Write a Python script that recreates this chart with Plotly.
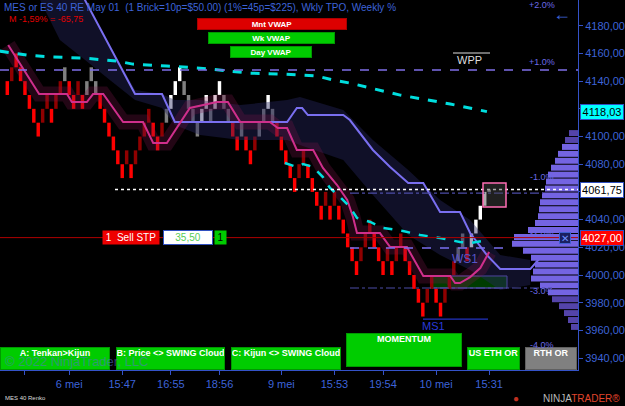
import plotly.graph_objects as go

# ---------------- data ----------------
brick_low = [4130, 4140, 4150, 4140, 4130, 4120, 4110, 4100, 4110, 4120,
             4110, 4120, 4130, 4140, 4130, 4120, 4130, 4120, 4130, 4140,
             4130, 4120, 4110, 4100, 4090, 4080, 4070, 4080, 4070, 4080,
             4090, 4100, 4110, 4100, 4090, 4100, 4110, 4120, 4130, 4140,
             4130, 4120, 4110, 4100, 4110, 4120, 4110, 4120, 4130, 4120,
             4110, 4100, 4090, 4100, 4090, 4080, 4090, 4100, 4110, 4120,
             4110, 4100, 4090, 4080, 4070, 4060, 4070, 4080, 4070, 4060,
             4050, 4040, 4050, 4040, 4050, 4040, 4030, 4020, 4010, 4000,
             4010, 4020, 4030, 4020, 4010, 4000, 4010, 4000, 4010, 4020,
             4010, 4000, 3990, 3980, 3970, 3980, 3990, 3980, 3970, 3980,
             3990, 4000, 4010, 4020, 4010, 4020, 4030, 4040, 4050]
brick_kind = list("RDRRRRRRDD" "RDDGRRDRGG" "GRRRRRRDRD" "DDDRRDGWWW"
                  "GGGGWWGWWG" "GRRGRRDGGW" "GRRRRRDDRR" "RRDRDRRRRR"
                  "DDDRRRDRDD" "RRRRRDDRRD" "DDGGRWWWW")
brick_size = 10
forming_low = 4060
last_price = 4061.75

wk_vwap_x = [-1.7, 4.5, 10.3, 17.1, 24.8, 28.4, 36.1, 43.6, 54.9, 62.4, 70.1, 73.7, 77.5, 88.9, 100.2, 108.5]
wk_vwap_y = [4161.7, 4158.8, 4157.4, 4156.7, 4154.5, 4152.3, 4150.9, 4149.4, 4145.8, 4145.1, 4143.7,
             4140.8, 4138.6, 4129.9, 4123.5, 4118.0]

day_vwap_x = [62.8, 65.5, 66.9, 69.2, 71.4, 73.0, 75.3, 77.5, 79.1, 82.1, 85.0, 89.5, 93.4, 97.9, 102.4, 104.7, 108.8]
day_vwap_y = [4080.9, 4078.0, 4080.1, 4078.0, 4070.7, 4062.8, 4056.3, 4049.1, 4041.2, 4038.3, 4034.0,
              4031.8, 4028.9, 4026.7, 4023.8, 4023.1, 4025.3]

kijun_x = [16.5, 28.9, 35.0, 37.9, 63.3, 65.5, 66.7, 68.0, 76.0, 77.5, 82.7, 86.6, 90.7, 94.1,
           97.9, 102.4, 104.7, 108.5, 111.5, 118.3, 120.5]
kijun_y = [4205.0, 4130.7, 4130.7, 4110.5, 4110.5, 4120.6, 4120.6, 4115.5, 4115.5, 4111.9, 4090.3,
           4078.0, 4066.4, 4066.4, 4045.5, 4045.5, 4030.3, 4014.4, 4004.3, 4004.3, 4012.3]

tenkan_x = [0.2, 7.2, 13.5, 14.6, 18.0, 19.4, 21.7, 26.2, 30.7, 33.0, 36.1, 41.3, 47.4, 49.9, 52.7,
            59.4, 61.2, 63.3, 65.5, 69.2, 71.4, 74.6, 76.9, 78.2, 79.1, 84.3, 86.6, 90.4, 94.1,
            100.2, 101.3, 102.4, 104.7, 107.0, 109.0]
tenkan_y = [4166.1, 4130.7, 4130.7, 4124.9, 4124.9, 4130.7, 4130.7, 4110.5, 4110.5, 4095.3, 4095.3,
            4120.6, 4124.9, 4124.9, 4110.5, 4110.5, 4106.1, 4106.1, 4090.3, 4090.3, 4077.3, 4065.0,
            4054.2, 4041.9, 4030.3, 4030.3, 4020.2, 4020.2, 3999.3, 3999.3, 3994.2, 3994.2, 3998.5,
            4005.0, 4016.6]

cloud_x = [7.4, 11.9, 17.6, 23.2, 28.9, 35.0, 37.9, 43.6, 52.7, 63.3, 66.2, 76.0, 82.7, 90.7,
           97.9, 104.7, 111.5, 118.3]
cloud_upper = [4198.6, 4198.6, 4198.6, 4166.1, 4133.6, 4130.7, 4126.4, 4126.4, 4122.7, 4126.4,
               4128.5, 4119.1, 4097.5, 4075.8, 4054.2, 4039.7, 4014.4, 4010.8]
cloud_lower = [4198.6, 4169.7, 4155.2, 4140.8, 4126.4, 4120.6, 4108.3, 4101.1, 4097.5, 4097.5,
               4093.9, 4083.0, 4057.8, 4028.9, 4014.4, 4003.6, 3989.2, 3992.8]

profile_price = [4102.5, 4097.5, 4092.5, 4087.5, 4082.5, 4077.5, 4072.5, 4067.5, 4062.5, 4057.5,
                 4052.5, 4047.5, 4042.5, 4037.5, 4032.5, 4027.5, 4022.5, 4017.5, 4012.5, 4007.5,
                 4002.5, 3997.5, 3992.5, 3987.5, 3982.5, 3977.5, 3972.5, 3967.5, 3962.5]
profile_volume = [9, 13, 16, 20, 23, 27, 30, 32, 33, 36, 38, 39, 40, 43, 50, 64, 66, 55, 47, 43,
                  45, 47, 38, 30, 26, 19, 14, 10, 7]

x_ticks = [4, 14, 26, 37, 48, 62, 74, 85, 97, 109]
x_labels = ["", "6 mei", "15:47", "16:55", "18:56", "9 mei", "15:53", "19:54", "10 mei", "15:31"]
y_ticks = [3940, 3960, 3980, 4000, 4020, 4040, 4060, 4080, 4100, 4120, 4140, 4160, 4180]
y_labels = ["3940,00", "3960,00", "3980,00", "4000,00", "4020,00", "4040,00", "",
            "4080,00", "4100,00", "", "4140,00", "4160,00", "4180,00"]

wk_plus1 = 4148.0
pct_levels = [4059.2, 3990.6]
ws1_level = 4019.5
ms1_level = 3968.2
sell_stop = 4027.0
vwap_last = 4118.03

# ---------------- layout helpers ----------------
W_PLOT, H_PLOT = 578, 370
X_RANGE = [-1.65, 129.1]
Y_RANGE = [3931.4, 4198.6]
FONT = "Liberation Sans, Arial, sans-serif"
AXIS_BLUE = "#3452c8"
TXT_BLUE = "#3d63d8"


def px(x):
    return x / W_PLOT


def py(y):
    return (H_PLOT - y) / H_PLOT


def ix(xp):
    return X_RANGE[0] + (X_RANGE[1] - X_RANGE[0]) * xp / W_PLOT


kind_colors = {"R": "#ff0000", "D": "#900000", "G": "#808080", "W": "#ffffff"}
idx = list(range(len(brick_low)))

fig = go.Figure()

# swing cloud (navy)
fig.add_trace(go.Scatter(x=cloud_x + cloud_x[::-1], y=cloud_upper + cloud_lower[::-1],
                         fill="toself", fillcolor="rgba(38,38,95,0.42)", mode="none",
                         hoverinfo="skip"))
# tenkan cloud (maroon glow)
fig.add_trace(go.Scatter(x=tenkan_x, y=tenkan_y, mode="lines",
                         line=dict(color="rgba(125,20,75,0.28)", width=15), hoverinfo="skip"))

# volume profile
prof_colors = ["#7464e2" if 3985 < p < 4095 else "#5444aa" for p in profile_price]
fig.add_trace(go.Bar(y=profile_price, x=profile_volume, orientation="h", xaxis="x2",
                     width=4.3, marker=dict(color=prof_colors, line_width=0), hoverinfo="skip"))

# bricks
fig.add_trace(go.Bar(x=idx, y=[brick_size] * len(idx), base=brick_low, width=0.78,
                     marker=dict(color=[kind_colors[k] for k in brick_kind], line_width=0)))
fig.add_trace(go.Bar(x=[len(idx)], y=[last_price - forming_low], base=[forming_low], width=0.78,
                     marker=dict(color="#9a9a9a", line_width=0)))

# lines
fig.add_trace(go.Scatter(x=kijun_x, y=kijun_y, mode="lines", line=dict(color="#7a6ff0", width=2)))
fig.add_trace(go.Scatter(x=tenkan_x, y=tenkan_y, mode="lines", line=dict(color="#cf2f8c", width=2)))
fig.add_trace(go.Scatter(x=wk_vwap_x, y=wk_vwap_y, mode="lines",
                         line=dict(color="#00dede", width=3, dash="dash")))
fig.add_trace(go.Scatter(x=day_vwap_x, y=day_vwap_y, mode="lines",
                         line=dict(color="#00dede", width=2.5, dash="dash")))

shapes = []
shapes.append(dict(type="line", xref="x", yref="y", x0=X_RANGE[0], x1=X_RANGE[1], y0=wk_plus1, y1=wk_plus1,
                   line=dict(color="#7f6fe8", width=1.6, dash="dash")))
shapes.append(dict(type="line", xref="x", yref="y", x0=X_RANGE[0], x1=X_RANGE[1], y0=sell_stop, y1=sell_stop,
                   line=dict(color="#b00000", width=1)))
shapes.append(dict(type="line", xref="x", yref="y", x0=ix(115), x1=X_RANGE[1], y0=last_price, y1=last_price,
                   line=dict(color="#ffffff", width=1.6, dash="dot")))
shapes.append(dict(type="line", xref="x", yref="y", x0=ix(350), x1=ix(543), y0=pct_levels[0], y1=pct_levels[0],
                   line=dict(color="#4c4ca8", width=1.2, dash="dashdot")))
shapes.append(dict(type="line", xref="x", yref="y", x0=ix(350), x1=ix(552), y0=pct_levels[1], y1=pct_levels[1],
                   line=dict(color="#4c4ca8", width=1.2, dash="dashdot")))
shapes.append(dict(type="line", xref="x", yref="y", x0=ix(350), x1=ix(508), y0=ws1_level, y1=ws1_level,
                   line=dict(color="#7a6ff0", width=1.4, dash="dash")))
shapes.append(dict(type="line", xref="x", yref="y", x0=ix(423), x1=ix(488), y0=ms1_level, y1=ms1_level,
                   line=dict(color="#2233c0", width=1.2)))
shapes.append(dict(type="rect", xref="x", yref="y", x0=ix(432), x1=ix(507), y0=3990.6, y1=3999.3,
                   fillcolor="rgba(0,80,0,0.75)", line=dict(color="#6a5acd", width=1), layer="below"))
shapes.append(dict(type="rect", xref="x", yref="y", x0=ix(483), x1=ix(506), y0=4049.1, y1=4066.4,
                   fillcolor="rgba(70,70,70,0.45)", line=dict(color="#ff6eb4", width=1.5)))
shapes.append(dict(type="line", xref="paper", yref="paper", x0=px(453), x1=px(490), y0=py(53), y1=py(53),
                   line=dict(color="#dddddd", width=1)))

ann = []


def box(text, x0, x1, y0, y1, bg, border, color="#ffffff", size=8, valign="middle", bold=True):
    t = f"<b>{text}</b>" if bold else text
    ann.append(dict(text=t, xref="paper", yref="paper", x=px((x0 + x1) / 2), y=py((y0 + y1) / 2),
                    xanchor="center", yanchor="middle", showarrow=False, width=x1 - x0 - 2,
                    height=y1 - y0 - 2, bgcolor=bg, bordercolor=border, borderwidth=1, borderpad=0,
                    valign=valign, align="center", font=dict(family=FONT, size=size, color=color)))


def txt(text, x, y, color, size, xanchor="left", yanchor="middle"):
    ann.append(dict(text=text, xref="paper", yref="paper", x=px(x), y=py(y), xanchor=xanchor,
                    yanchor=yanchor, showarrow=False, font=dict(family=FONT, size=size, color=color)))


txt("MES or ES 40 RE May 01  (1 Brick=10p=$50.00) (1%=45p=$225), Wkly TPO, Weekly %", 2, 7, TXT_BLUE, 10)
txt("M -1,59% = -65,75", 7, 19, "#e00000", 9)
box("Mnt VWAP", 197, 347, 18, 30, "#dd0000", "#aa0000")
box("Wk VWAP", 208, 335, 32, 44, "#00cc00", "#009900")
box("Day VWAP", 230, 312, 46, 58, "#00cc00", "#009900")

box("A: Tenkan>Kijun", 0, 110, 347, 370, "#00cc00", "#009900", size=9, valign="top")
box("B: Price &lt;&gt; SWING Cloud", 116, 225, 347, 370, "#00cc00", "#009900", size=9, valign="top")
box("C: Kijun &lt;&gt; SWING Cloud", 231, 341, 347, 370, "#00cc00", "#009900", size=9, valign="top")
box("MOMENTUM", 346, 462, 333, 367, "#00cc00", "#009900", size=9, valign="top")
box("US ETH OR", 467, 520, 347, 370, "#00cc00", "#009900", size=9, valign="top")
box("RTH OR", 525, 577, 347, 370, "#808080", "#606060", size=9, valign="top")
txt("© 2022 NinjaTrader, LLC", 3, 361, "rgba(90,110,210,0.55)", 13)

for label, y in [("+2.0%", 5), ("+1.0%", 62), ("-1.0%", 177), ("-2.0%", 233), ("-3.0%", 291), ("-4.0%", 345)]:
    txt(label, 542, y, "#6a6ae6", 9, xanchor="center")
txt("←", 562, 14, TXT_BLUE, 18, xanchor="center")
txt("WPP", 455, 60, "#dddddd", 11)
txt("WS1", 465, 259, "#5a54c8", 12, xanchor="center")
txt("MS1", 433, 326, "#2a3ad8", 11, xanchor="center")

ann.append(dict(text="1  Sell STP", xref="paper", yref="y", x=px(131), y=sell_stop, showarrow=False,
                width=56, height=13, bgcolor="#ee0000", borderpad=0, xanchor="center",
                font=dict(family=FONT, size=10, color="#ffffff")))
ann.append(dict(text="35,50", xref="paper", yref="y", x=px(188), y=sell_stop, showarrow=False,
                width=48, height=13, bgcolor="#ffffff", bordercolor="#3050c0", borderwidth=1, borderpad=0,
                xanchor="center", font=dict(family=FONT, size=10, color="#55cc55")))
ann.append(dict(text="1", xref="paper", yref="y", x=px(221), y=sell_stop, showarrow=False,
                width=11, height=13, bgcolor="#00cc00", borderpad=0, xanchor="center",
                font=dict(family=FONT, size=10, color="#000000")))
ann.append(dict(text="✕", xref="paper", yref="y", x=px(565), y=sell_stop, showarrow=False,
                width=10, height=10, bgcolor="#1a2060", bordercolor="#4060d0", borderwidth=1, borderpad=0,
                xanchor="center", font=dict(family=FONT, size=10, color="#7090ff")))

for val, text, bg, fg in [(vwap_last, "4118,03", "#00ffff", "#000000"),
                          (last_price, "4061,75", "#ffffff", "#000000"),
                          (sell_stop, "4027,00", "#ff0000", "#ffffff")]:
    ann.append(dict(text=text, xref="paper", yref="y", x=1, y=val, xanchor="left", xshift=2,
                    showarrow=False, bgcolor=bg, bordercolor="#3050c0", borderwidth=1, borderpad=1,
                    width=40, font=dict(family=FONT, size=11, color=fg)))

txt("MES 40 Renko", 3, 398, "#dddddd", 6)
ann.append(dict(text="<span style='color:#b8b8b8'>NINJA</span><span style='color:#e2452c'>TRADER®</span>",
                xref="paper", yref="paper", x=px(622), y=py(398), xanchor="right", yanchor="middle",
                showarrow=False, font=dict(family=FONT, size=10)))
txt("●", 516, 398, "#c03020", 10, xanchor="center")

fig.update_layout(
    width=625, height=406, margin=dict(l=0, r=47, t=0, b=36),
    paper_bgcolor="#000000", plot_bgcolor="#000000", showlegend=False, barmode="overlay",
    xaxis=dict(range=X_RANGE, tickvals=x_ticks, ticktext=x_labels, showgrid=False, zeroline=False,
               showline=True, linecolor=AXIS_BLUE, linewidth=1, ticks="outside", ticklen=4,
               tickcolor=AXIS_BLUE, tickfont=dict(family=FONT, size=11, color=TXT_BLUE)),
    xaxis2=dict(range=[W_PLOT, 0], overlaying="x", visible=False),
    yaxis=dict(range=Y_RANGE, side="right", tickvals=y_ticks, ticktext=y_labels, showgrid=False,
               zeroline=False, showline=True, linecolor=AXIS_BLUE, linewidth=1, ticks="outside",
               ticklen=4, tickcolor=AXIS_BLUE, tickfont=dict(family=FONT, size=11, color=TXT_BLUE)),
    shapes=shapes, annotations=ann,
)

fig.write_html("out.html")
